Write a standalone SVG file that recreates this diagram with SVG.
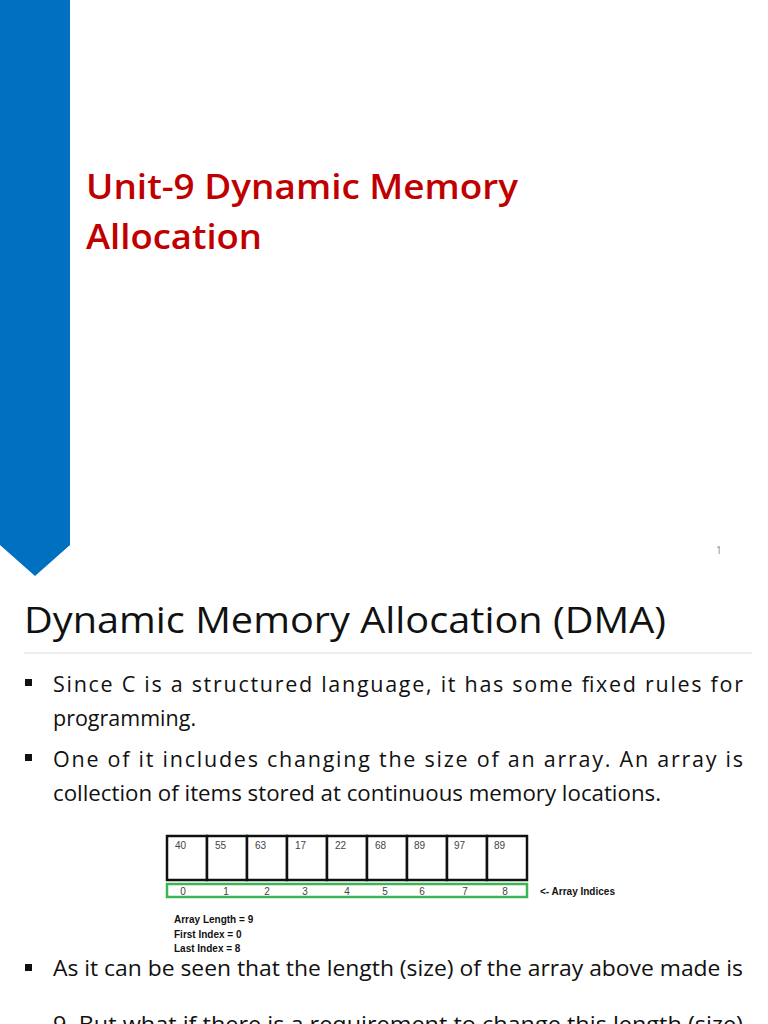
<svg xmlns="http://www.w3.org/2000/svg" width="768" height="1024" viewBox="0 0 768 1024">
<style>
.t{font-family:"Open Sans","Liberation Sans",sans-serif}
.b{font-family:"Open Sans","Liberation Sans",sans-serif;font-size:21.5px;fill:#111}
.c{fill:#fff;stroke:#111;stroke-width:2.5}
.n{font-family:"Liberation Sans",sans-serif;font-size:10px;fill:#444}
.s{font-family:"Liberation Sans",sans-serif;font-size:10px;font-weight:bold;fill:#111}
</style>
<rect width="768" height="1024" fill="#fff"/>
<g id="slide1">
<polygon points="0,0 70,0 70,545 35,576 0,545" fill="#0070C0"/>
<text class="t" x="86" y="199" font-size="34" font-weight="600" fill="#C00000" textLength="432" lengthAdjust="spacingAndGlyphs">Unit-9 Dynamic Memory</text>
<text class="t" x="86" y="249" font-size="34" font-weight="600" fill="#C00000" textLength="176" lengthAdjust="spacingAndGlyphs">Allocation</text>
<text class="t" x="716" y="554" font-size="10" fill="#888">1</text>
</g>
<g id="slide2">
<text class="t" x="24" y="633" font-size="36" fill="#111" textLength="642" lengthAdjust="spacingAndGlyphs">Dynamic Memory Allocation (DMA)</text>
<line x1="24" y1="653" x2="752" y2="653" stroke="#ddd" stroke-width="1"/>
<g fill="#111"><rect x="25" y="679" width="7" height="7"/><rect x="25" y="754" width="7" height="7"/><rect x="25" y="964" width="7" height="7"/></g>
<text class="b" x="53" y="692" textLength="690">Since C is a structured language, it has some fixed rules for</text>
<text class="b" x="53" y="726">programming.</text>
<text class="b" x="53" y="767" textLength="690">One of it includes changing the size of an array. An array is</text>
<text class="b" x="53" y="801" textLength="608" lengthAdjust="spacingAndGlyphs">collection of items stored at continuous memory locations.</text>
<text class="b" x="53" y="976" textLength="690" lengthAdjust="spacingAndGlyphs">As it can be seen that the length (size) of the array above made is</text>
<text class="b" x="53" y="1032" textLength="690" lengthAdjust="spacingAndGlyphs">9. But what if there is a requirement to change this length (size)</text>
</g>
<g id="array">
<rect class="c" x="167" y="836" width="40" height="44"/><rect class="c" x="207" y="836" width="40" height="44"/><rect class="c" x="247" y="836" width="40" height="44"/><rect class="c" x="287" y="836" width="40" height="44"/><rect class="c" x="327" y="836" width="40" height="44"/><rect class="c" x="367" y="836" width="40" height="44"/><rect class="c" x="407" y="836" width="40" height="44"/><rect class="c" x="447" y="836" width="40" height="44"/><rect class="c" x="487" y="836" width="40" height="44"/>
<text class="n" x="175" y="849">40</text><text class="n" x="215" y="849">55</text><text class="n" x="255" y="849">63</text><text class="n" x="295" y="849">17</text><text class="n" x="335" y="849">22</text><text class="n" x="375" y="849">68</text><text class="n" x="414" y="849">89</text><text class="n" x="454" y="849">97</text><text class="n" x="494" y="849">89</text>
<rect x="167" y="884" width="360" height="13" fill="#fff" stroke="#3CB554" stroke-width="2.5"/>
<g class="n" text-anchor="middle"><text x="183" y="895">0</text><text x="226" y="895">1</text><text x="267" y="895">2</text><text x="305" y="895">3</text><text x="347" y="895">4</text><text x="385" y="895">5</text><text x="422" y="895">6</text><text x="465" y="895">7</text><text x="505" y="895">8</text></g>
<text class="s" x="540" y="895">&lt;- Array Indices</text>
<text class="s" x="174" y="923">Array Length = 9</text>
<text class="s" x="174" y="938">First Index = 0</text>
<text class="s" x="174" y="952">Last Index = 8</text>
</g>
</svg>
